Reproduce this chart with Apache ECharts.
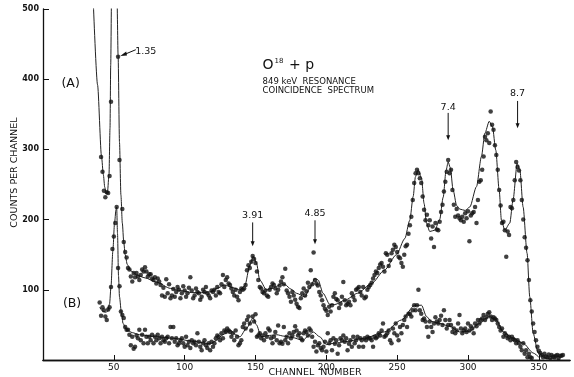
<!DOCTYPE html>
<html>
<head>
<meta charset="utf-8">
<script src="https://cdn.jsdelivr.net/npm/echarts@6/dist/echarts.min.js"></script>
<style>
html,body{margin:0;padding:0;background:#fff;}
#c{width:574px;height:377px;}
</style>
</head>
<body>
<div id="c"></div>
<script>
// ---- Data ----
// Spectrum (A): counts per channel, starting at channel 41 (null = off scale / no point)
const A_start = 41;
const A_counts = [
 289,268,241,232,239,238,262,368,null,null,null,null,432,285,null,215,168,154,146,131,
 129,119,112,124,118,124,119,114,121,129,
 126,132,126,119,122,122,116,114,118,109,
 116,112,107,92,103,90,115,95,108,88,
 92,101,90,97,104,100,88,95,105,99,
 90,95,103,118,99,88,92,102,97,95,
 86,90,100,97,104,95,92,88,99,97,
 100,92,104,97,95,108,121,104,114,118,
 109,107,102,97,92,100,90,85,97,102,
 100,102,107,128,135,131,140,148,144,138,
 126,114,104,102,97,95,99,92,90,100,
 104,109,107,102,95,100,106,112,118,108,
 130,99,95,90,83,97,92,86,80,76,
 74,88,95,102,92,98,110,104,128,108,
 153,114,109,106,97,92,85,78,73,70,
 64,76,69,78,90,95,87,85,74,80,
 90,111,85,78,80,83,78,95,90,85,
 100,102,104,97,92,104,88,90,100,104,
 107,110,116,121,126,124,131,136,138,133,
 126,152,150,134,142,152,157,164,161,154,
 147,145,138,133,150,162,164,180,192,204,
 228,252,266,271,266,259,252,233,214,199,
 207,192,199,173,190,161,195,186,185,197,
 211,221,240,254,268,285,266,271,242,221,
 204,215,206,202,199,204,197,209,202,212,
 169,206,209,211,218,195,228,254,256,271,
 290,318,313,323,309,354,335,328,306,292,
 271,242,220,195,197,185,147,183,178,218,
 216,228,256,282,275,270,256,228,200,175,
 160,142,114,85,69,52,40,28,19,13,
 10,7,4,9,5,4,8,3,7,5,
 4,6,7,3,6,6,7
];
// Spectrum (B): counts per channel, starting at channel 40
const B_start = 40;
const B_counts = [
 82,63,75,71,62,57,72,75,104,158,176,195,218,131,105,69,64,60,47,43,
 43,36,21,33,16,19,35,31,43,28,
 36,24,43,33,24,33,28,36,24,33,
 28,36,31,24,33,28,26,31,33,24,
 47,31,47,26,31,21,24,28,31,24,
 19,33,21,26,17,28,24,26,21,38,
 26,19,14,24,28,21,17,24,14,26,
 19,
 24,31,35,33,28,38,31,42,40,45,
 42,40,33,38,28,42,33,21,24,28,
 47,52,45,57,62,52,42,62,55,65,
 33,35,38,31,35,28,38,33,45,42,
 31,24,33,40,28,49,24,26,23,47,
 28,33,24,38,31,35,40,48,42,35,
 38,31,28,38,42,40,35,45,42,33,
 19,26,12,21,24,17,14,19,26,12,
 38,24,28,14,31,23,28,9,21,31,
 28,35,26,31,14,23,28,19,33,24,
 28,33,19,31,28,19,31,28,33,31,
 31,28,19,33,31,33,38,35,42,52,
 33,35,38,42,28,24,45,38,52,35,
 28,47,38,50,57,62,47,66,66,62,
 71,78,71,78,100,71,66,57,59,55,
 47,33,55,47,40,52,61,55,52,57,
 63,50,71,
 57,45,50,57,50,40,45,38,42,52,
 64,45,38,42,45,40,52,42,48,45,
 38,52,48,57,52,57,59,64,57,61,
 66,68,62,57,61,59,57,52,47,42,
 45,33,38,35,31,33,28,33,30,28,
 24,28,24,19,14,24,9,14,4,9,
 4,3
];
// Fitted curves drawn through the points: [channel, counts]
const A_fit = [
 [35.5,510],[38.5,392],[41.3,290],[42.6,264],[43.6,246],[44.6,237],[45.6,241],[46.6,265],[47.3,330],[47.8,420],[48.4,520],
 [50,800],[52.2,520],[53,435],[54,310],[55,235],[56,195],[57,168],[58,150],[59.5,136],[62,127],[66,121],[72,117],[80,111],[90,102],
 [97,99],[105,96],[112,96],[118,97],[124,103],[128,107],[134,103],[139,100],[142.5,106],[146,135],[148.3,148],[150.7,138],[153,114],
 [157.7,100],[162,102],[165,105],[168.4,109],[171,107],[175,101],[179,95],[184.8,90],[188.3,102],[191.9,116],[194.2,114],[197.7,95],
 [202.5,79],[206,79],[213,85],[222,95],[232,109],[241,128],[249.5,150],[255.4,173],[258.9,199],[261.3,233],[262.9,261],[264.8,271],
 [267.2,259],[269,223],[270.7,195],[273,183],[276.6,185],[280,200],[282.5,232],[284.5,270],[286,282],[287.5,274],[289.5,242],[292,220],
 [294.2,215],[298,213],[301.3,218],[306,247],[309.5,290],[311.9,323],[315,340],[317.3,332],[319.6,299],[322,242],[323.6,199],[326,185],
 [329.5,195],[331.8,228],[334.7,280],[336.6,271],[338.9,218],[341.7,152],[343.6,90],[346,38],[349.5,10],[355,2],[365,1]
];
const B_fit = [
 [40,75],[42,70],[44,68],[45.5,69],[47,80],[48,105],[49.3,155],[50.5,195],[51.5,214],[52,218],[52.6,180],[53.3,120],[54,90],[55.4,66],
 [56.5,52],[59,43],[63,39],[68,36],[80,33],[92,31],[105,27],[115,24],[118,23],[122.5,28],[127,36],[132,43],[136,36],[139,33],[143.6,45],
 [148.3,60],[150.7,50],[154,33],[160,35],[165,36],[170,34],[176,32],[183.6,28],[187,34],[190.7,40],[195.4,33],[200,22],[206,24],[213,26],
 [227,31],[241,40],[253,57],[262.4,78],[267.2,78],[270.7,62],[274.2,55],[280,52],[287,48],[294,40],[301,41],[308,52],[315,62],[320,57],
 [324.8,40],[331.8,31],[338.9,24],[346,10],[350,4]
];
// Axis ticks
const xTicks = [50,100,150,200,250,300,350];
const yTicks = [100,200,300,400,500];
// Peak annotations (energies in MeV) at channel positions
const peakLabels = ['3.91','4.85','7.4','8.7'];
const peakChannels = [148,192,286,335];

const toPairs = (start, arr) => arr.map((v,i)=> v==null ? null : [start+i, v]).filter(p=>p);

const chart = echarts.init(document.getElementById('c'), null, {renderer:'canvas'});
const ink = '#111';
const font = '"DejaVu Sans", "Liberation Sans", sans-serif';

chart.setOption({
  animation:false,
  backgroundColor:'#fff',
  grid:{left:43,right:4,top:9,bottom:17},
  xAxis:[{
    type:'value', min:0, max:372,
    axisLine:{show:true,onZero:false,lineStyle:{color:ink,width:1.3}},
    axisTick:{show:true,inside:true,length:5,customValues:xTicks,lineStyle:{color:ink}},
    axisLabel:{customValues:xTicks,color:ink,fontSize:9,fontFamily:font,margin:3},
    splitLine:{show:false}
  },{
    type:'value', min:0, max:372, position:'top',
    axisLine:{show:true,lineStyle:{color:ink,width:1.3}},
    axisTick:{show:false}, axisLabel:{show:false}, splitLine:{show:false}
  }],
  yAxis:{
    type:'value', min:0, max:500,
    axisLine:{show:true,lineStyle:{color:ink,width:1.3}},
    axisTick:{show:true,inside:true,length:6,customValues:yTicks,lineStyle:{color:ink}},
    axisLabel:{customValues:yTicks,color:ink,fontSize:8,fontFamily:font,fontWeight:'bold',margin:4},
    splitLine:{show:false}
  },
  series:[
    {type:'line',data:A_fit,smooth:0.25,smoothMonotone:'x',showSymbol:false,clip:true,
     lineStyle:{color:'#222',width:1},z:2},
    {type:'line',data:B_fit,smooth:0.25,smoothMonotone:'x',showSymbol:false,clip:true,
     lineStyle:{color:'#222',width:1},z:2},
    {type:'scatter',data:toPairs(A_start,A_counts),symbol:'circle',symbolSize:4.5,
     itemStyle:{color:ink},z:3},
    {type:'scatter',data:toPairs(B_start,B_counts),symbol:'circle',symbolSize:4.5,
     itemStyle:{color:ink},z:3}
  ]
});

// ---- annotations (placed in data coordinates) ----
const P = (x,y) => chart.convertToPixel({xAxisIndex:0,yAxisIndex:0},[x,y]);
const g = [];
function text(x,y,str,size,extra){
  const p = P(x,y);
  g.push(Object.assign({type:'text',x:p[0],y:p[1],
    style:Object.assign({text:str,fill:ink,font:size+'px '+font,textAlign:'center',textVerticalAlign:'middle'},extra||{})}));
}
function arrowDown(ch, yTop, yBot){
  const a = P(ch,yTop), b = P(ch,yBot);
  g.push({type:'line',shape:{x1:a[0],y1:a[1],x2:b[0],y2:b[1]-3},style:{stroke:ink,lineWidth:1}});
  g.push({type:'polygon',shape:{points:[[b[0]-2,b[1]-5],[b[0]+2,b[1]-5],[b[0],b[1]]]},style:{fill:ink}});
}
const labelVals = [206,208,360,380];
const arrTop = [196,199,352,369];
const arrBot = [162,165,313,330];
peakLabels.forEach((s,i)=>{
  text(peakChannels[i], labelVals[i], s, 9.5);
  arrowDown(peakChannels[i], arrTop[i], arrBot[i]);
});
// 1.35 label with arrow to the point
text(72.5, 440, '1.35', 9.5);
(function(){
  const a = P(65.5,442), b = P(54.5,433);
  g.push({type:'line',shape:{x1:a[0],y1:a[1],x2:b[0]+4,y2:b[1]-1.5},style:{stroke:ink,lineWidth:1}});
  g.push({type:'polygon',shape:{points:[[b[0],b[1]],[b[0]+6,b[1]-4.5],[b[0]+6.8,b[1]-0.5]]},style:{fill:ink}});
})();
text(19.5, 393, '(A)', 12.5);
text(20.5, 80, '(B)', 12.5);
// Title block
(function(){
  const p = P(155, 420);
  g.push({type:'text',x:p[0],y:p[1],style:{
    text:'{o|O}{s|18}{o| + p}', textVerticalAlign:'middle',
    rich:{o:{fontSize:14,fontFamily:font,fill:ink,verticalAlign:'bottom'},
          s:{fontSize:7,fontFamily:font,fill:ink,verticalAlign:'top',padding:[0,1,8,1]}}
  }});
  const q = P(155, 397);
  g.push({type:'text',x:q[0],y:q[1],style:{text:'849 keV  RESONANCE',fill:ink,font:'8.5px '+font,textVerticalAlign:'middle'}});
  const r = P(155, 383);
  g.push({type:'text',x:r[0],y:r[1],style:{text:'COINCIDENCE  SPECTRUM',fill:ink,font:'8.5px '+font,textVerticalAlign:'middle'}});
})();
// Axis titles
(function(){
  const p = P(192, 0);
  g.push({type:'text',x:p[0],y:p[1]+12.5,style:{text:'CHANNEL  NUMBER',fill:ink,font:'9.5px '+font,textAlign:'center',textVerticalAlign:'middle'}});
  const q = P(0, 267);
  g.push({type:'text',x:15,y:q[1],rotation:Math.PI/2,style:{text:'COUNTS PER CHANNEL',fill:ink,font:'9.5px '+font,textAlign:'center',textVerticalAlign:'middle'}});
})();
chart.setOption({graphic:g});
</script>
</body>
</html>
